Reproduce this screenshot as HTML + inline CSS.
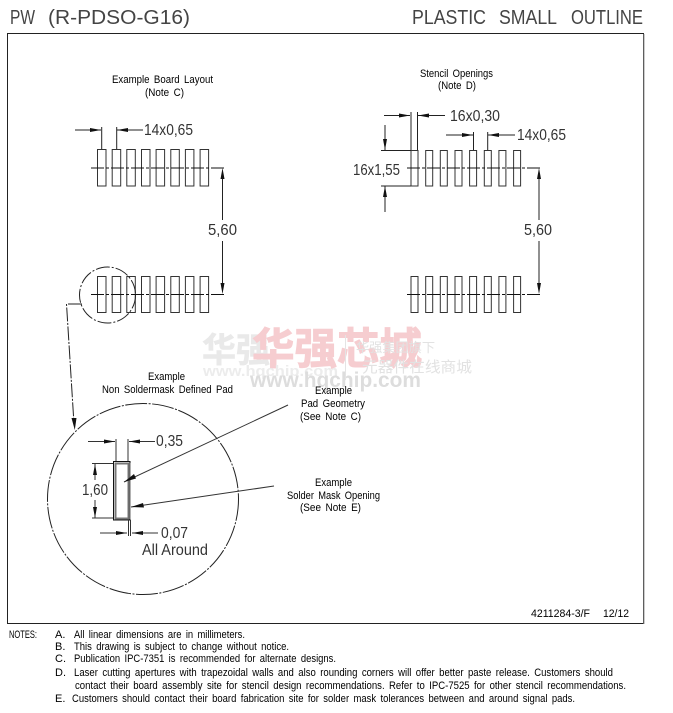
<!DOCTYPE html>
<html><head><meta charset="utf-8"><style>
html,body{margin:0;padding:0;background:#fff}
svg{display:block}
text{font-family:"Liberation Sans","Noto Sans CJK SC",sans-serif;fill:#111}
.s{font-size:11px;word-spacing:2px;fill:#000}
.m{font-size:15.500px;fill:#333}
.l{font-size:20px;fill:#444}
</style></head><body>
<svg width="673" height="713" viewBox="0 0 673 713" xmlns="http://www.w3.org/2000/svg">
<rect width="673" height="713" fill="#fff"/>
<!-- watermark -->
<g>
<text x="202" y="362" font-size="34" font-weight="700" style="fill:#e9e9e9;stroke:#e9e9e9;stroke-width:.6px">华强</text>
<text x="252" y="364" font-size="43" font-weight="700" style="fill:#f6cdd0;stroke:#f6cdd0;stroke-width:1px" textLength="170" lengthAdjust="spacingAndGlyphs">华强芯城</text>
<text x="203" y="376" font-size="15" font-weight="700" style="fill:#ececec" textLength="135" lengthAdjust="spacingAndGlyphs">www.hqchip.com</text>
<text x="250" y="387" font-size="21" font-weight="700" style="fill:#dddddd" textLength="171" lengthAdjust="spacingAndGlyphs">www.hqchip.com</text>
<text x="356" y="352" font-size="13" style="fill:#e2e2e2" textLength="79" lengthAdjust="spacingAndGlyphs">华强集团旗下</text>
<text x="362" y="372" font-size="15" style="fill:#e2e2e2" textLength="110" lengthAdjust="spacingAndGlyphs">元器件在线商城</text>
<line x1="345.500" y1="335" x2="345.500" y2="380" stroke="#e4e4e4"/>
</g>
<!-- frame -->
<rect x="7.500" y="33.500" width="636" height="590" fill="none" stroke="#222" stroke-width="1"/>
<line x1="644" y1="34" x2="644" y2="624" stroke="#999" stroke-width="1"/>
<!-- header -->
<text class="l" x="10" y="24" textLength="25" lengthAdjust="spacingAndGlyphs">PW</text>
<text class="l" x="48" y="24" textLength="142" lengthAdjust="spacingAndGlyphs">(R-PDSO-G16)</text>
<text class="l" x="412" y="24" textLength="74" lengthAdjust="spacingAndGlyphs">PLASTIC</text>
<text class="l" x="499" y="24" textLength="58" lengthAdjust="spacingAndGlyphs">SMALL</text>
<text class="l" x="571" y="24" textLength="72" lengthAdjust="spacingAndGlyphs">OUTLINE</text>
<!-- titles -->
<text class="s" x="112" y="83" textLength="101" lengthAdjust="spacingAndGlyphs">Example Board Layout</text>
<text class="s" x="145" y="96" textLength="39" lengthAdjust="spacingAndGlyphs">(Note C)</text>
<text class="s" x="420" y="77" textLength="73" lengthAdjust="spacingAndGlyphs">Stencil Openings</text>
<text class="s" x="438" y="89" textLength="38" lengthAdjust="spacingAndGlyphs">(Note D)</text>
<text class="s" x="148" y="380" textLength="37" lengthAdjust="spacingAndGlyphs">Example</text>
<text class="s" x="102" y="393" textLength="131" lengthAdjust="spacingAndGlyphs">Non Soldermask Defined Pad</text>
<text class="s" x="315" y="394" textLength="37" lengthAdjust="spacingAndGlyphs">Example</text>
<text class="s" x="301" y="407" textLength="64" lengthAdjust="spacingAndGlyphs">Pad Geometry</text>
<text class="s" x="300" y="420" textLength="61" lengthAdjust="spacingAndGlyphs">(See Note C)</text>
<text class="s" x="315" y="486" textLength="37" lengthAdjust="spacingAndGlyphs">Example</text>
<text class="s" x="287" y="499" textLength="93" lengthAdjust="spacingAndGlyphs">Solder Mask Opening</text>
<text class="s" x="300" y="511" textLength="61" lengthAdjust="spacingAndGlyphs">(See Note E)</text>
<!-- pads -->
<g fill="none" stroke="#333" stroke-width="1">
<rect x="97.500" y="149.500" width="8.500" height="36.500"/><rect x="112.200" y="149.500" width="8.500" height="36.500"/><rect x="126.800" y="149.500" width="8.500" height="36.500"/><rect x="141.500" y="149.500" width="8.500" height="36.500"/><rect x="156.100" y="149.500" width="8.500" height="36.500"/><rect x="170.800" y="149.500" width="8.500" height="36.500"/><rect x="185.400" y="149.500" width="8.500" height="36.500"/><rect x="200.100" y="149.500" width="8.500" height="36.500"/>
<rect x="97.500" y="276.500" width="8.500" height="36"/><rect x="112.200" y="276.500" width="8.500" height="36"/><rect x="126.800" y="276.500" width="8.500" height="36"/><rect x="141.500" y="276.500" width="8.500" height="36"/><rect x="156.100" y="276.500" width="8.500" height="36"/><rect x="170.800" y="276.500" width="8.500" height="36"/><rect x="185.400" y="276.500" width="8.500" height="36"/><rect x="200.100" y="276.500" width="8.500" height="36"/>
<rect x="411" y="150.500" width="7" height="35.500"/><rect x="425.700" y="150.500" width="7" height="35.500"/><rect x="440.300" y="150.500" width="7" height="35.500"/><rect x="455" y="150.500" width="7" height="35.500"/><rect x="469.600" y="150.500" width="7" height="35.500"/><rect x="484.300" y="150.500" width="7" height="35.500"/><rect x="498.900" y="150.500" width="7" height="35.500"/><rect x="513.600" y="150.500" width="7" height="35.500"/>
<rect x="411" y="276.500" width="7" height="36"/><rect x="425.700" y="276.500" width="7" height="36"/><rect x="440.300" y="276.500" width="7" height="36"/><rect x="455" y="276.500" width="7" height="36"/><rect x="469.600" y="276.500" width="7" height="36"/><rect x="484.300" y="276.500" width="7" height="36"/><rect x="498.900" y="276.500" width="7" height="36"/><rect x="513.600" y="276.500" width="7" height="36"/>
</g>
<!-- centerlines -->
<g stroke="#111" stroke-width="1" fill="none" stroke-dasharray="13 2 3 2">
<line x1="91" y1="168" x2="225" y2="168"/>
<line x1="91" y1="294.500" x2="225" y2="294.500"/>
<line x1="407" y1="168" x2="541" y2="168"/>
<line x1="407" y1="294.500" x2="541" y2="294.500"/>
</g>
<!-- dimension lines -->
<g stroke="#222" stroke-width="1" fill="none">
<path d="M222.500 172V220M222.500 241V290"/>
<path d="M539 172V220M539 241V290"/>
<path d="M101.700 127V149M116.700 127V149M75 130H101M117 130H143"/>
<path d="M411 112V150M417.500 112V150M384 115.500H410M418 115.500H445"/>
<path d="M473.500 132V150M487.700 132V150M446 135H473M488 135H515"/>
<path d="M381 150.500H411M381 186H411M385 125V150M385 186V212"/>
</g>
<g fill="#111">
<polygon points="222.500,168 220.500,179 224.500,179"/>
<polygon points="222.500,294 220.500,283 224.500,283"/>
<polygon points="539,168 537,179 541,179"/>
<polygon points="539,294 537,283 541,283"/>
<polygon points="101,130 90,128 90,132"/>
<polygon points="117,130 128,128 128,132"/>
<polygon points="410,115.500 399,113.500 399,117.500"/>
<polygon points="418,115.500 429,113.500 429,117.500"/>
<polygon points="473,135 462,133 462,137"/>
<polygon points="488,135 499,133 499,137"/>
<polygon points="385,150 383,139 387,139"/>
<polygon points="385,186 383,197 387,197"/>
</g>
<text class="m" x="144" y="135" textLength="49" lengthAdjust="spacingAndGlyphs">14x0,65</text>
<text class="m" x="450" y="121" textLength="50" lengthAdjust="spacingAndGlyphs">16x0,30</text>
<text class="m" x="517" y="140" textLength="49" lengthAdjust="spacingAndGlyphs">14x0,65</text>
<text class="m" x="353" y="175" textLength="47" lengthAdjust="spacingAndGlyphs">16x1,55</text>
<text class="m" x="208" y="235" textLength="29" lengthAdjust="spacingAndGlyphs">5,60</text>
<text class="m" x="524" y="235" textLength="28" lengthAdjust="spacingAndGlyphs">5,60</text>
<!-- detail circle and leader -->
<g fill="none" stroke="#222" stroke-width="1">
<circle cx="107.500" cy="295" r="28" stroke-dasharray="14 2 2 2"/>
<circle cx="143" cy="499" r="95.500" stroke-dasharray="22 1.500 2 1.500"/>
<path d="M82 304H66.500L74 424" stroke-dasharray="14 1.500 2 1.500"/>
</g>
<polygon points="74.800,430 71.500,418 76.500,418" fill="#111"/>
<!-- detail pad -->
<rect x="115.500" y="463.500" width="13" height="55" fill="none" stroke="#777" stroke-width="2"/>
<rect x="113.500" y="461.500" width="16.500" height="58.500" fill="none" stroke="#111" stroke-width="1"/>
<g stroke="#333" stroke-width="1" fill="none">
<path d="M116 439V461M128 439V461M88 441.500H115M129 441.500H155"/>
<path d="M92 463.500H113M92 518H113M95 464V480M95 500V518"/>
<path d="M128.500 520V536M130.500 520V536M100 533H127M132 533H158"/>
<path d="M288 405L124 482"/>
<path d="M274 486L131 507"/>
</g>
<line x1="129.500" y1="463" x2="129.500" y2="519" stroke="#666" stroke-width="2"/>
<g fill="#111">
<polygon points="115,441.500 104,439.500 104,443.500"/>
<polygon points="129,441.500 140,439.500 140,443.500"/>
<polygon points="95,464 93,475 97,475"/>
<polygon points="95,518 93,507 97,507"/>
<polygon points="127,533 116,531 116,535"/>
<polygon points="132,533 143,531 143,535"/>
<polygon points="124,482 134,474 136,478.500"/>
<polygon points="131,507 143,503 144,507.500"/>
</g>
<text class="m" x="156" y="446" textLength="27" lengthAdjust="spacingAndGlyphs">0,35</text>
<text class="m" x="82" y="495" textLength="26" lengthAdjust="spacingAndGlyphs">1,60</text>
<text class="m" x="161" y="538" textLength="27" lengthAdjust="spacingAndGlyphs">0,07</text>
<text class="m" x="142" y="555" textLength="66" lengthAdjust="spacingAndGlyphs">All Around</text>
<!-- drawing number -->
<text class="s" x="531" y="617" textLength="59" lengthAdjust="spacingAndGlyphs">4211284-3/F</text>
<text class="s" x="603" y="617" textLength="26" lengthAdjust="spacingAndGlyphs">12/12</text>
<!-- notes -->
<text class="s" x="9" y="638" textLength="28" lengthAdjust="spacingAndGlyphs">NOTES:</text>
<text class="s" x="55" y="638">A.</text>
<text class="s" x="74" y="638" textLength="171" lengthAdjust="spacingAndGlyphs">All linear dimensions are in millimeters.</text>
<text class="s" x="55" y="650">B.</text>
<text class="s" x="74" y="650" textLength="215" lengthAdjust="spacingAndGlyphs">This drawing is subject to change without notice.</text>
<text class="s" x="55" y="662">C.</text>
<text class="s" x="74" y="662" textLength="262" lengthAdjust="spacingAndGlyphs">Publication IPC-7351 is recommended for alternate designs.</text>
<text class="s" x="55" y="676">D.</text>
<text class="s" x="74" y="676" textLength="539" lengthAdjust="spacingAndGlyphs">Laser cutting apertures with trapezoidal walls and also rounding corners will offer better paste release.  Customers should</text>
<text class="s" x="75" y="689" textLength="551" lengthAdjust="spacingAndGlyphs">contact their board assembly site for stencil design recommendations. Refer to IPC-7525 for other stencil recommendations.</text>
<text class="s" x="55" y="702">E.</text>
<text class="s" x="72" y="702" textLength="503" lengthAdjust="spacingAndGlyphs">Customers should contact their board fabrication site for solder mask tolerances between and around signal pads.</text>
</svg>
</body></html>
